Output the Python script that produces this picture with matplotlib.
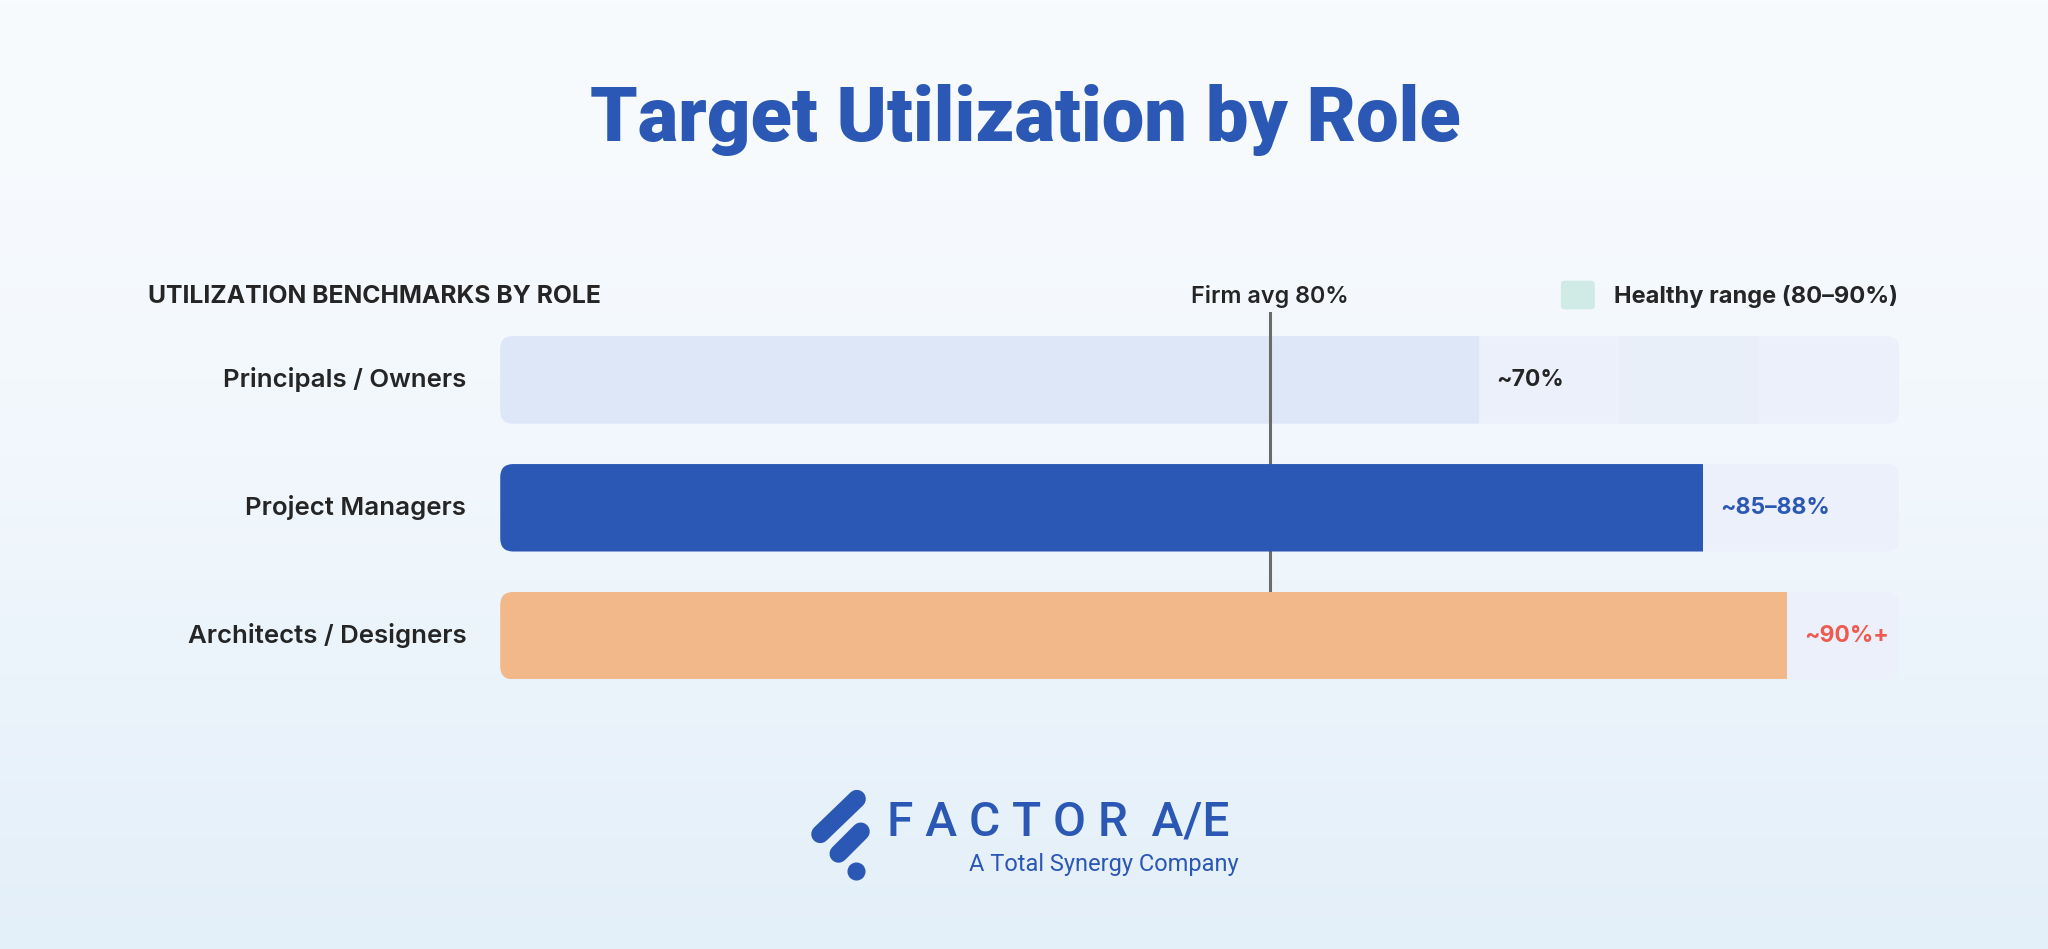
"""Target utilization by role, horizontal benchmark bars."""
import numpy as np
from matplotlib import pyplot as plt
from matplotlib.patches import FancyBboxPatch, Rectangle

roles = ['Principals / Owners', 'Project Managers', 'Architects / Designers']
values = [70, 86, 92]
value_labels = ['~70%', '~85–88%', '~90%+']
healthy_range = (80, 90)
firm_avg_label = 'Firm avg 80%'
firm_avg_pos = 55  # where the marker sits on the original graphic

bar_colors = ['#dde7f7', '#2b58b4', '#f3b889']
label_colors = ['#252525', '#2b58b4', '#ee5a4f']
blue = '#2b58b4'
W, H = 1568, 727  # layout units (reference display pixels)

plt.rcParams['font.family'] = ['Inter', 'DejaVu Sans']
fig = plt.figure(figsize=(20.48, 9.49), dpi=100)

# background gradient
bg = fig.add_axes([0, 0, 1, 1], zorder=0)
grad = np.linspace(0, 1, 256)[:, None]
top, bot = np.array([248, 251, 254]) / 255, np.array([227, 239, 249]) / 255
bg.imshow(top + (bot - top) * grad[..., None] ** 1.5, aspect='auto',
          extent=[0, 1, 0, 1], origin='upper')
bg.axis('off')

# overlay axes in layout units for text and logo
ov = fig.add_axes([0, 0, 1, 1], zorder=3)
ov.set_xlim(0, W)
ov.set_ylim(H, 0)
ov.axis('off')
ov.patch.set_alpha(0)

ov.text(W / 2 + 1, 92, 'Target Utilization by Role', ha='center', va='center',
        fontsize=54.5, fontweight='heavy', color=blue, family=['Roboto', 'DejaVu Sans'])
ov.text(113, 227, 'UTILIZATION BENCHMARKS BY ROLE', ha='left', va='center',
        fontsize=17.8, fontweight='bold', color='#252525')
ov.add_patch(FancyBboxPatch((1195, 215), 26, 22, boxstyle='round,pad=0,rounding_size=3',
                            fc='#d0ebe5', ec='none'))
ov.text(1453, 227, 'Healthy range (80–90%)', ha='right', va='center',
        fontsize=17, fontweight='bold', color='#252525')

# bars axes: x in percent, y in layout units
ax = fig.add_axes([383 / W, 0, 1071 / W, 1], zorder=2)
ax.set_xlim(0, 100)
ax.set_ylim(H, 0)
ax.axis('off')
ax.patch.set_alpha(0)
xscale = 1071 / 100

ax.text(firm_avg_pos, 227, firm_avg_label, ha='center', va='center',
        fontsize=16.8, fontweight='semibold', color='#252525')
ax.plot([firm_avg_pos, firm_avg_pos], [240, 453], color='#6b6b6b', lw=2.2, zorder=2)

centers = [291, 389, 487]
bh = 67
for i, (role, v) in enumerate(zip(roles, values)):
    y0 = centers[i] - bh / 2
    track = FancyBboxPatch((0, y0), 100, bh,
                           boxstyle=f'round,pad=0,rounding_size={10 / xscale}',
                           mutation_aspect=xscale, fc='#ebf0fa', ec='none', zorder=1)
    ax.add_patch(track)
    if i == 0:
        band = Rectangle((healthy_range[0], y0), healthy_range[1] - healthy_range[0], bh,
                         fc='#e9eff8', ec='none', zorder=1.5)
        ax.add_patch(band)
        band.set_clip_path(track)
    bar = Rectangle((0, y0), v, bh, fc=bar_colors[i], ec='none',
                    zorder=1.8 if i == 0 else 3)
    ax.add_patch(bar)
    bar.set_clip_path(track)
    ax.text(v + 13 / xscale, centers[i], value_labels[i], ha='left', va='center',
            fontsize=16.5, fontweight='bold', color=label_colors[i], zorder=4)
    ov.text(357, centers[i], role, ha='right', va='center',
            fontsize=18.6, fontweight='semibold', color='#252525')

# logo
ov.plot([628, 656], [639, 612], color=blue, lw=13, solid_capstyle='round')
ov.plot([642, 659], [654, 637], color=blue, lw=13, solid_capstyle='round')
ov.plot([655], [667], 'o', color=blue, ms=12)
ov.text(679, 630, 'F A C T O R  A/E', ha='left', va='center', fontsize=34.5,
        fontweight='medium', color=blue, family=['Roboto', 'DejaVu Sans'])
ov.text(948, 662, 'A Total Synergy Company', ha='right', va='center', fontsize=17,
        color=blue, family=['Roboto', 'DejaVu Sans'])

fig.savefig('out.png', dpi=100)
